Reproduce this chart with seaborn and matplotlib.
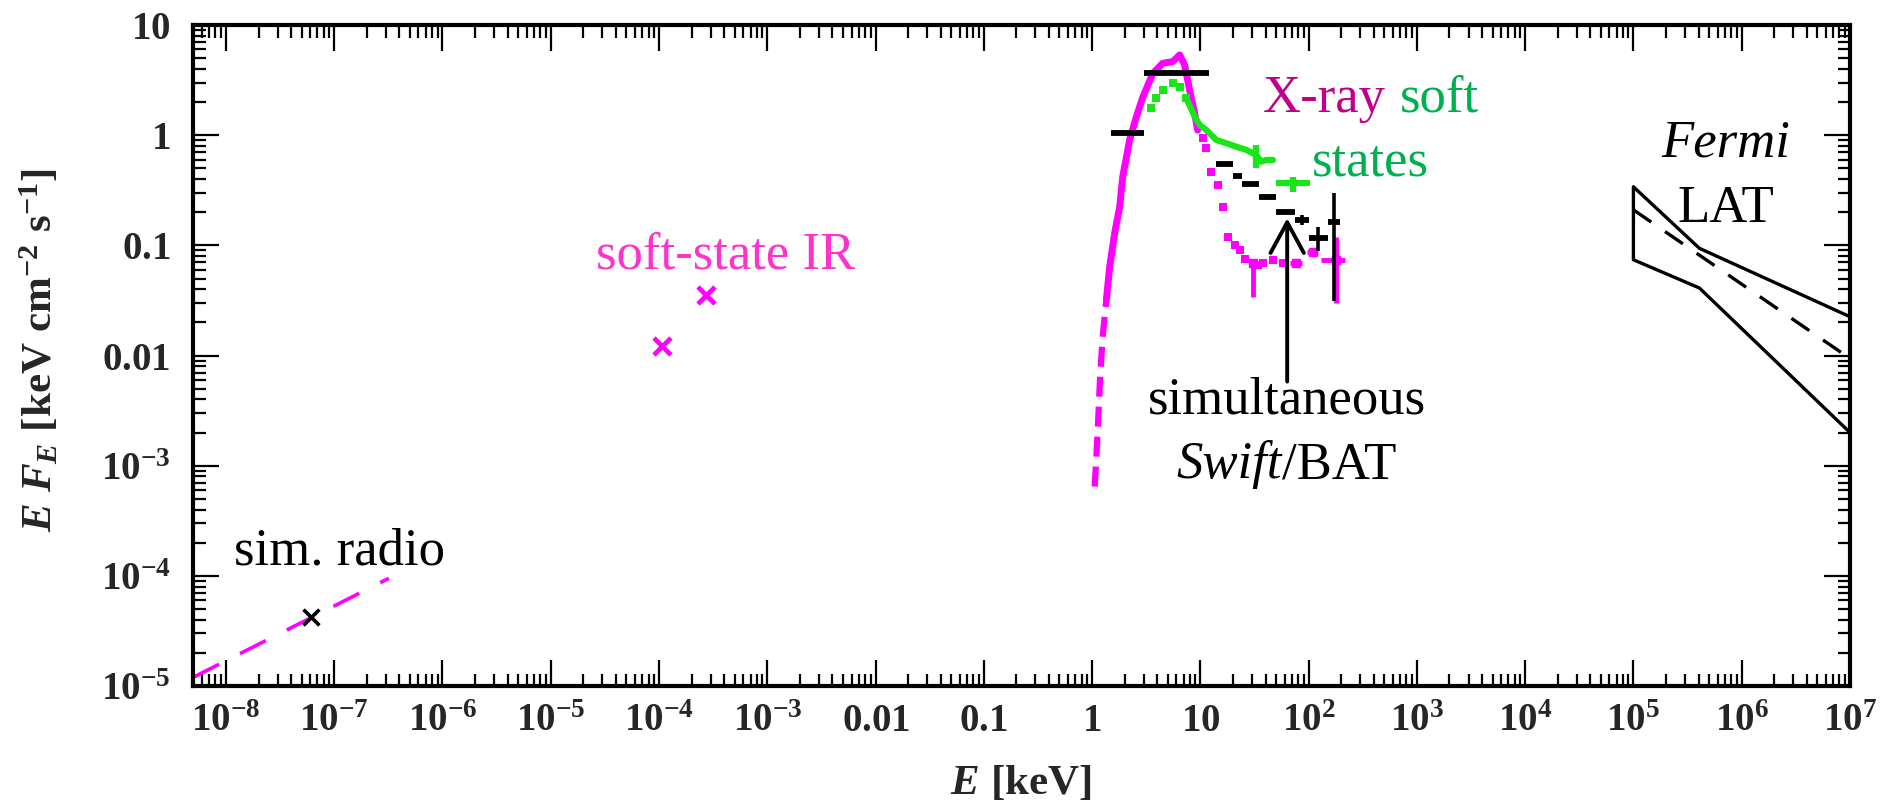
import numpy as np
import pandas as pd
import matplotlib
matplotlib.use("Agg")
import matplotlib.pyplot as plt
import seaborn as sns
from matplotlib.ticker import LogLocator, FuncFormatter, NullFormatter

# ---------------- data (E in keV, E F_E in keV cm^-2 s^-1) ----------------
# simulated radio: power-law segment and the simultaneous point
radio_line_E = [5.0e-9, 3.2e-7]
radio_line_F = [1.2e-5, 9.5e-5]
radio_pt_E = [6.1e-8]
radio_pt_F = [4.2e-5]

# soft-state infrared points
ir_E = [1.07e-4, 2.74e-4]
ir_F = [0.0123, 0.0355]

# soft-state X-ray spectrum (magenta): steep low-energy tail
xm_tail_E = [1.057, 1.096, 1.132, 1.175, 1.219, 1.262, 1.355]
xm_tail_F = [6.46e-4, 1.21e-3, 2.26e-3, 5.22e-3, 9.77e-3, 0.0160, 0.032]
# dense part of the magenta spectrum
xm_E = [1.355, 1.455, 1.618, 1.799, 1.919, 2.223, 2.564, 2.951, 3.648,
        4.487, 5.546, 6.442, 7.161, 7.962, 8.851, 9.441]
xm_F = [0.032, 0.0641, 0.130, 0.224, 0.420, 0.904, 1.47, 2.23, 3.65,
        4.49, 4.65, 5.35, 4.34, 2.57, 1.59, 1.11]
# sparse high-energy magenta bins
xm_hi_E = [10.5, 11.35, 12.62, 14.45, 16.07, 17.86, 21.0, 23.07, 26.0,
           30.4, 34.0, 37.6, 46.6, 57.5]
xm_hi_F = [0.944, 0.766, 0.467, 0.353, 0.224, 0.120, 0.100, 0.0908, 0.075,
           0.0692, 0.066, 0.0692, 0.0738, 0.0692]
# magenta bins with error bars
xm_err_E = [30.4, 76.9, 108.9, 177.4]
xm_err_F = [0.0692, 0.0692, 0.0877, 0.0738]
xm_err_xlo = [0.0, 10.0, 12.0, 46.4]
xm_err_xhi = [0.0, 10.0, 12.0, 37.6]
xm_err_ylo = [0.035, 0.0, 0.0, 0.044]
xm_err_yhi = [0.004, 0.0, 0.0, 0.046]

# second soft state (green): sparse points round the peak, dense tail
xg_pk_E = [3.532, 3.926, 4.519, 5.585, 6.442, 7.430]
xg_pk_F = [1.754, 2.163, 2.570, 2.958, 2.754, 2.163]
xg_E = [7.430, 8.872, 9.863, 11.35, 14.06, 17.38, 21.48, 26.61, 32.89,
        36.56, 40.64, 46.88]
xg_F = [2.163, 1.472, 1.239, 1.114, 0.904, 0.845, 0.787, 0.735, 0.661,
        0.575, 0.596, 0.596]
xg_err_E = [32.89, 71.8]
xg_err_F = [0.661, 0.366]
xg_err_xlo = [0.0, 21.4]
xg_err_xhi = [0.0, 31.0]
xg_err_ylo = [0.157, 0.059]
xg_err_yhi = [0.154, 0.054]

# broad-band soft X-ray bins (black)
soft_edges = [1.5, 3.0, 12.0]
soft_F = [1.04, 3.65]

# simultaneous Swift/BAT bins (black)
bat_edges = [14, 20, 24, 35, 50, 75, 100, 150, 195]
bat_F = [0.548, 0.427, 0.358, 0.273, 0.202, 0.170, 0.116, 0.164]
bat_ylo = [0.0, 0.0, 0.0, 0.0, 0.0, 0.017, 0.028, 0.133]
bat_yhi = [0.0, 0.0, 0.0, 0.0, 0.0, 0.019, 0.032, 0.133]

# Fermi/LAT bow-tie
lat_outline_E = [1e7, 4.07e5, 1e5, 1e5, 4.07e5, 1e7]
lat_outline_F = [0.0225, 0.094, 0.34, 0.074, 0.041, 0.0020]
lat_fit_E = [1e5, 1e7]
lat_fit_F = [0.21, 0.0094]

# axis decades
x_decades = list(range(-8, 8))
y_decades = list(range(-5, 2))

# ---------------- style ----------------
sns.set_style("ticks")
plt.rcParams.update({
    "font.family": ["Liberation Serif", "DejaVu Serif"],
    "mathtext.fontset": "custom",
    "mathtext.rm": "Liberation Serif:bold",
    "mathtext.it": "Liberation Serif:italic:bold",
    "mathtext.bf": "Liberation Serif:bold",
    "axes.linewidth": 3.0,
    "axes.edgecolor": "black",
})

MAG = "#ff00ff"
GRN = "#19e619"
BLK = "black"

fig = plt.figure(figsize=(18.99, 8.01), dpi=100)
ax = fig.add_axes([0.10147, 0.14357, 0.8727, 0.8252])
ax.set_xscale("log")
ax.set_yscale("log")

# radio
sns.lineplot(x=radio_line_E, y=radio_line_F, ax=ax, color=MAG, lw=2.6,
             sort=False, estimator=None)
ax.lines[-1].set_dashes((8, 6.5))
sns.scatterplot(x=radio_pt_E, y=radio_pt_F, ax=ax, marker="x", s=130,
                color=BLK, linewidth=2.6, zorder=5)

# infrared
sns.scatterplot(x=ir_E, y=ir_F, ax=ax, marker="x", s=150, color=MAG,
                linewidth=3.4, zorder=5)

# magenta X-ray spectrum
sns.lineplot(x=xm_tail_E, y=xm_tail_F, ax=ax, color=MAG, lw=4.5,
             sort=False, estimator=None)
ax.lines[-1].set_dashes((3.2, 1.6))
sns.lineplot(x=xm_E, y=xm_F, ax=ax, color=MAG, lw=5,
             sort=False, estimator=None)
sns.scatterplot(x=xm_hi_E, y=xm_hi_F, ax=ax, marker="s", s=40, color=MAG,
                linewidth=0, zorder=3)
ax.errorbar(xm_err_E, xm_err_F, xerr=[xm_err_xlo, xm_err_xhi],
            yerr=[xm_err_ylo, xm_err_yhi], fmt="s", ms=6, color=MAG,
            elinewidth=3.5, capsize=0, zorder=3)

# green X-ray spectrum
sns.scatterplot(x=xg_pk_E, y=xg_pk_F, ax=ax, marker="s", s=40, color=GRN,
                linewidth=0, zorder=2)
sns.lineplot(x=xg_E, y=xg_F, ax=ax, color=GRN, lw=4.5,
             sort=False, estimator=None, zorder=2)
ax.errorbar(xg_err_E, xg_err_F, xerr=[xg_err_xlo, xg_err_xhi],
            yerr=[xg_err_ylo, xg_err_yhi], fmt="none", color=GRN,
            elinewidth=4.5, capsize=0, zorder=2)

# broad soft X-ray bins
se = np.array(soft_edges, dtype=float)
s_mid = np.sqrt(se[:-1] * se[1:])
ax.errorbar(s_mid, soft_F, xerr=[s_mid - se[:-1], se[1:] - s_mid],
            fmt="none", color=BLK, elinewidth=4.2, capsize=0, zorder=4)

# Swift/BAT bins
be = np.array(bat_edges, dtype=float)
b_mid = np.sqrt(be[:-1] * be[1:])
ax.errorbar(b_mid, bat_F, xerr=[b_mid - be[:-1], be[1:] - b_mid],
            fmt="none", color=BLK, elinewidth=4.2, capsize=0, zorder=4)
ax.errorbar(b_mid, bat_F, yerr=[bat_ylo, bat_yhi],
            fmt="none", color=BLK, elinewidth=2.6, capsize=0, zorder=4)

# Fermi/LAT bow-tie
sns.lineplot(x=lat_outline_E, y=lat_outline_F, ax=ax, color=BLK, lw=2.4,
             sort=False, estimator=None)
sns.lineplot(x=lat_fit_E, y=lat_fit_F, ax=ax, color=BLK, lw=2.4,
             sort=False, estimator=None)
ax.lines[-1].set_dashes((6.5, 5))

# ---------------- annotations ----------------
TS = 38
ax.text(1.13e-7, 1.26e-4, "sim. radio", fontsize=TS, ha="center",
        va="baseline", color=BLK)
ax.text(4.14e-4, 0.061, "soft-state IR", fontsize=TS, ha="center",
        va="baseline", color="#ff33cc")
ax.text(521, 1.63, "X-ray", fontsize=TS, ha="right", va="baseline",
        color="#c0008c")
ax.text(692, 1.63, "soft", fontsize=TS, ha="left", va="baseline",
        color="#00b050")
ax.text(373, 0.435, "states", fontsize=TS, ha="center", va="baseline",
        color="#00b050")
ax.text(63.2, 3.0e-3, "simultaneous", fontsize=TS, ha="center",
        va="baseline", color=BLK)
ax.text(56.4, 7.7e-4, "Swift", fontsize=TS, ha="right", va="baseline",
        style="italic", color=BLK)
ax.text(56.4, 7.7e-4, "/BAT", fontsize=TS, ha="left", va="baseline",
        color=BLK)
ax.text(7.16e5, 0.634, "Fermi", fontsize=TS, ha="center", va="baseline",
        style="italic", color=BLK)
ax.text(7.16e5, 0.164, "LAT", fontsize=TS, ha="center", va="baseline",
        color=BLK)
ax.annotate("", xy=(63.4, 0.176), xytext=(63.4, 5.8e-3),
            arrowprops=dict(arrowstyle="->,head_length=0.55,head_width=0.3",
                            lw=2.8, color=BLK, mutation_scale=40,
                            shrinkA=0, shrinkB=0))

# ---------------- axes ----------------
def log_label(v, pos):
    n = int(round(np.log10(v)))
    named = {-2: "0.01", -1: "0.1", 0: "1", 1: "10"}
    s = named.get(n, "10^{%d}" % n)
    return r"$\mathbf{%s}$" % s

ax.set_xticks([10.0 ** n for n in x_decades])
ax.set_yticks([10.0 ** n for n in y_decades])
for axis in (ax.xaxis, ax.yaxis):
    axis.set_minor_locator(LogLocator(base=10, subs=np.arange(2, 10),
                                      numticks=40))
    axis.set_major_formatter(FuncFormatter(log_label))
    axis.set_minor_formatter(NullFormatter())
ax.set_xlim(4.93e-9, 1e7)
ax.set_ylim(1e-5, 10)

ax.tick_params(which="both", direction="in", top=True, right=True,
               width=1.6, color=BLK, labelsize=28)
ax.tick_params(which="major", length=19)
ax.tick_params(which="minor", length=9)
ax.tick_params(axis="x", which="major", pad=12)
ax.tick_params(axis="y", which="major", pad=16)

fig.text(40 / 1899, 1 - 350 / 801,
         r"$E\ F_E\ \mathrm{[keV\ cm^{-2}\ s^{-1}]}$",
         rotation=90, ha="center", va="center", fontsize=31)
fig.text(1021 / 1899, 1 - 784 / 801, r"$E\ \mathrm{[keV]}$",
         ha="center", va="center", fontsize=31)

fig.savefig("out.png", dpi=100)
